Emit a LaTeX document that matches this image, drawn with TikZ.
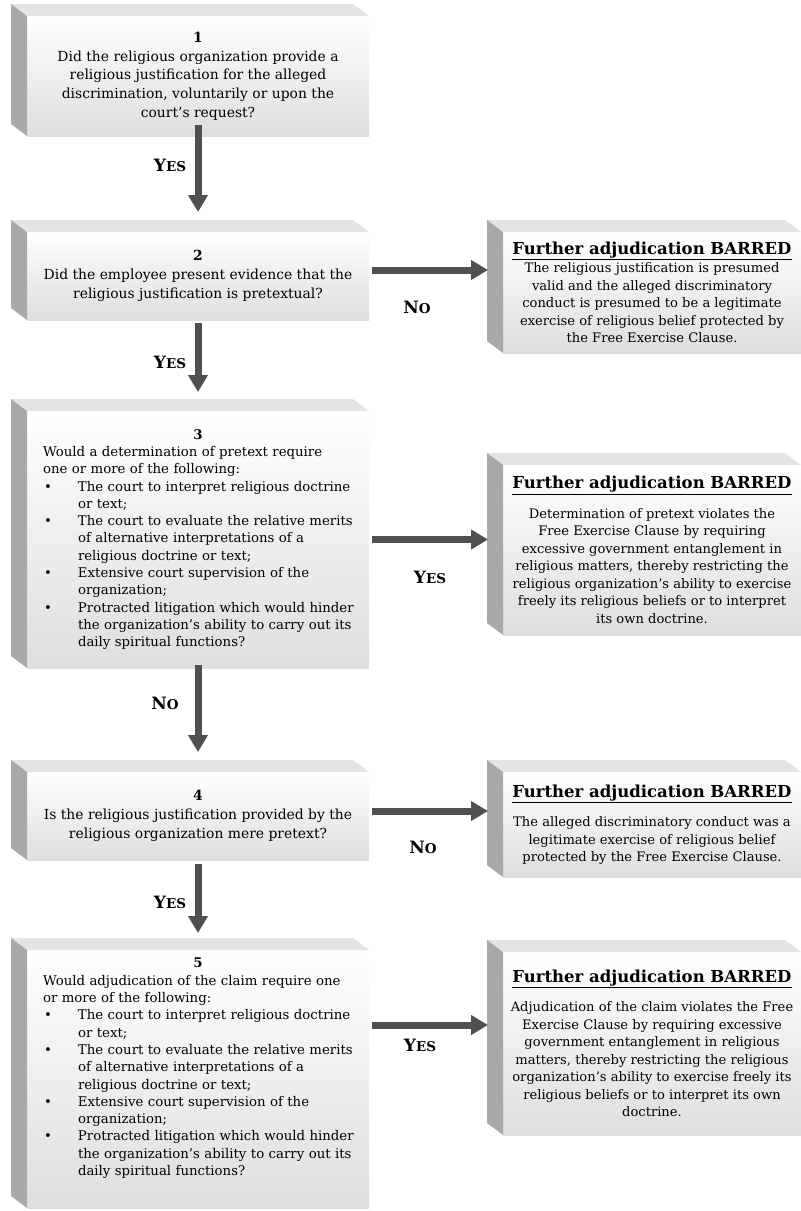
\documentclass[tikz,border=0pt]{standalone}
\usepackage{fontspec}
\setmainfont{DejaVu Serif}
\usetikzlibrary{arrows.meta,calc}
\definecolor{arrowgray}{HTML}{505050}
\definecolor{topgray}{HTML}{E4E4E4}
\definecolor{sidegray}{HTML}{A9A9A9}
\definecolor{frontbot}{HTML}{DEDEDE}
\newcommand{\boxfaces}[1]{%
  \fill[topgray] (#1.north west) -- (#1.north east) -- ++(-16,12) -- ($(#1.north west)+(-16,12)$) -- cycle;
  \fill[sidegray] (#1.north west) -- (#1.south west) -- ++(-16,12) -- ($(#1.north west)+(-16,12)$) -- cycle;}
\newcommand{\lblyes}{{\bfseries\fontsize{17}{18}\selectfont Y\fontsize{13.5}{14}\selectfont ES}}
\newcommand{\lblno}{{\bfseries\fontsize{17}{18}\selectfont N\fontsize{13.5}{14}\selectfont O}}
\newcommand{\bartitle}{{\fontsize{16.5}{19}\selectfont\bfseries\underline{Further adjudication BARRED}}}
\newcommand{\bul}[1]{\makebox[35pt][l]{\hspace{1pt}\textbullet}\mbox{#1}}
\newcommand{\cont}[1]{\hspace*{35pt}\mbox{#1}}
\begin{document}
\begin{tikzpicture}[x=1pt,y=1pt,
  face/.style={inner sep=0pt, outer sep=0pt, top color=white, bottom color=frontbot},
  leftbox/.style={face, minimum width=342pt, align=center,
    font=\fontsize{13.9}{18.7}\selectfont},
  listbox/.style={face, minimum width=342pt, text width=310pt, align=left,
    font=\fontsize{13.3}{17.3}\selectfont},
  rightbox/.style={face, minimum width=298pt, align=center,
    font=\fontsize{13.1}{17.5}\selectfont},
  bigarrow/.style={draw=arrowgray, line width=7pt,
    -{Triangle[width=19pt,length=17pt,fill=arrowgray]}},
  lbl/.style={inner sep=0pt}]
\useasboundingbox (0,0) rectangle (801,-1211);
\fill[white] (0,0) rectangle (801,-1211);

% left column
\node[leftbox, minimum height=120pt] (b1) at (198,-76) {{\bfseries 1}\\Did the religious organization provide a\\religious justification for the alleged\\discrimination, voluntarily or upon the\\court’s request?};
\boxfaces{b1}
\node[leftbox, minimum height=88pt] (b2) at (198,-276) {{\bfseries 2}\\Did the employee present evidence that the\\religious justification is pretextual?};
\boxfaces{b2}
\node[listbox, minimum height=257pt] (b3) at (198,-539.5) {\makebox[310pt]{\bfseries 3}\\\mbox{Would a determination of pretext require}\\\mbox{one or more of the following:}\\\bul{The court to interpret religious doctrine}\\\cont{or text;}\\\bul{The court to evaluate the relative merits}\\\cont{of alternative interpretations of a}\\\cont{religious doctrine or text;}\\\bul{Extensive court supervision of the}\\\cont{organization;}\\\bul{Protracted litigation which would hinder}\\\cont{the organization’s ability to carry out its}\\\cont{daily spiritual functions?}};
\boxfaces{b3}
\node[leftbox, minimum height=88pt] (b4) at (198,-816) {{\bfseries 4}\\Is the religious justification provided by the\\religious organization mere pretext?};
\boxfaces{b4}
\node[listbox, minimum height=258pt] (b5) at (198,-1079) {\makebox[310pt]{\bfseries 5}\\\mbox{Would adjudication of the claim require one}\\\mbox{or more of the following:}\\\bul{The court to interpret religious doctrine}\\\cont{or text;}\\\bul{The court to evaluate the relative merits}\\\cont{of alternative interpretations of a}\\\cont{religious doctrine or text;}\\\bul{Extensive court supervision of the}\\\cont{organization;}\\\bul{Protracted litigation which would hinder}\\\cont{the organization’s ability to carry out its}\\\cont{daily spiritual functions?}\\[7pt]~};
\boxfaces{b5}

% right column
\node[rightbox, minimum height=121pt] (r2) at (652,-292.5) {\bartitle\\[1pt]The religious justification is presumed\\valid and the alleged discriminatory\\conduct is presumed to be a legitimate\\exercise of religious belief protected by\\the Free Exercise Clause.};
\boxfaces{r2}
\node[rightbox, minimum height=170pt] (r3) at (652,-550) {\bartitle\\[12pt]Determination of pretext violates the\\Free Exercise Clause by requiring\\excessive government entanglement in\\religious matters, thereby restricting the\\religious organization’s ability to exercise\\freely its religious beliefs or to interpret\\its own doctrine.};
\boxfaces{r3}
\node[rightbox, minimum height=105pt] (r4) at (652,-824.5) {\bartitle\\[12pt]The alleged discriminatory conduct was a\\legitimate exercise of religious belief\\protected by the Free Exercise Clause.};
\boxfaces{r4}
\node[rightbox, minimum height=183pt] (r5) at (652,-1043.5) {\bartitle\\[12pt]Adjudication of the claim violates the Free\\Exercise Clause by requiring excessive\\government entanglement in religious\\matters, thereby restricting the religious\\organization’s ability to exercise freely its\\religious beliefs or to interpret its own\\doctrine.};
\boxfaces{r5}

% vertical arrows
\draw[bigarrow] ([yshift=11pt]b1.south) -- ([yshift=20pt]b2.north);
\draw[bigarrow] ([yshift=-3pt]b2.south) -- ([yshift=19pt]b3.north);
\draw[bigarrow] ([yshift=3pt]b3.south) -- ([yshift=20pt]b4.north);
\draw[bigarrow] ([yshift=-4pt]b4.south) -- ([yshift=17pt]b5.north);
% horizontal arrows
\draw[bigarrow] ($(b2.east)+(3,6)$) -- ($(b2.east -| r2.west)+(-15,6)$);
\draw[bigarrow] ($(b3.east)+(3,0)$) -- ($(b3.east -| r3.west)+(-15,0)$);
\draw[bigarrow] ($(b4.east)+(3,5)$) -- ($(b4.east -| r4.west)+(-15,5)$);
\draw[bigarrow] ($(b5.east)+(3,54)$) -- ($(b5.east -| r5.west)+(-15,54)$);

% labels
\node[lbl] (l1) at (170,-165) {\lblyes};
\node[lbl] (l2) at (170,-362) {\lblyes};
\node[lbl] (l3) at (165,-703) {\lblno};
\node[lbl] (l4) at (170,-902) {\lblyes};
\node[lbl] (l5) at (417,-307) {\lblno};
\node[lbl] (l6) at (430,-577) {\lblyes};
\node[lbl] (l7) at (423,-847) {\lblno};
\node[lbl] (l8) at (420,-1045) {\lblyes};
\end{tikzpicture}
\end{document}
